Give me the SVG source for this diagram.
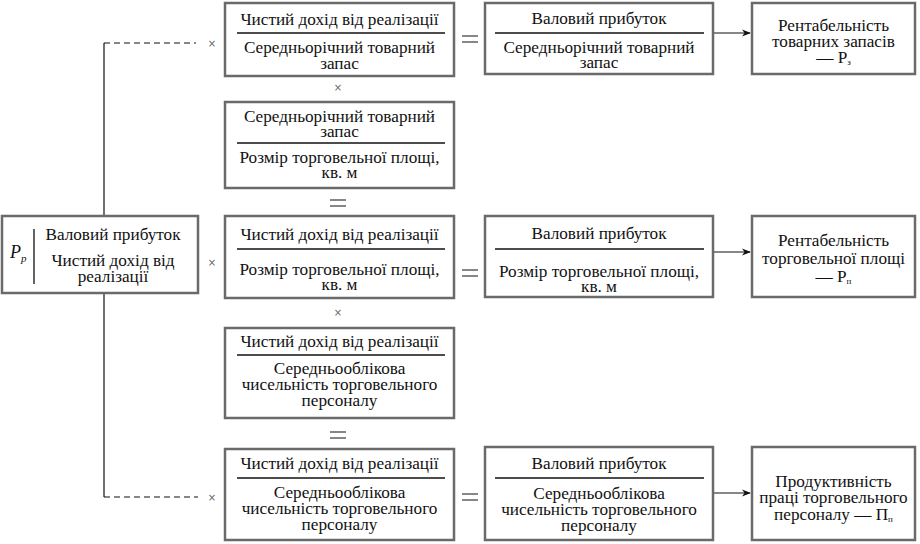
<svg xmlns="http://www.w3.org/2000/svg" width="920" height="544" viewBox="0 0 920 544">
<defs>
<style>
.box{fill:#fff;stroke:#6a6a6a;stroke-width:2.5}
.t{font-family:"Liberation Serif","Times New Roman",serif;font-size:17.2px;fill:#111;text-anchor:middle}
.frac{stroke:#111;stroke-width:1.3}
.conn{stroke:#111;stroke-width:1.2;fill:none}
.dash{stroke:#111;stroke-width:1.2;stroke-dasharray:6 4;fill:none}
.op{stroke:#111;stroke-width:1.2}
.x{font-family:"DejaVu Sans",sans-serif;font-size:10px;fill:#666;text-anchor:middle}
.sub{font-size:9px}
</style>
<marker id="ah" viewBox="0 0 10 10" refX="9" refY="5" markerWidth="9" markerHeight="9" markerUnits="userSpaceOnUse" orient="auto">
<path d="M0,1 L10,5 L0,9 L3,5 Z" fill="#111"/>
</marker>
</defs>
<rect width="920" height="544" fill="#fff"/>

<g id="connectors">
<path class="conn" d="M104,43 V216 M104,293 V497"/>
<path class="dash" d="M104,43 H196 M104,497 H198"/>
<path class="conn" d="M714,33 H750" marker-end="url(#ah)"/>
<path class="conn" d="M714,252 H750" marker-end="url(#ah)"/>
<path class="conn" d="M714,493 H750" marker-end="url(#ah)"/>
</g>

<g id="operators">
<text class="x" x="212" y="47">×</text>
<text class="x" x="212" y="266">×</text>
<text class="x" x="212" y="501">×</text>
<text class="x" x="338" y="91">×</text>
<text class="x" x="338" y="316">×</text>
<path class="op" d="M462,36 H478 M462,42 H478"/>
<path class="op" d="M462,270 H478 M462,276 H478"/>
<path class="op" d="M462,494 H478 M462,500 H478"/>
<path class="op" d="M330,200 H346 M330,206 H346"/>
<path class="op" d="M330,432 H346 M330,438 H346"/>
</g>

<g id="node-pp">
<rect class="box" x="2" y="216" width="196" height="77"/>
<line class="frac" x1="34" y1="229" x2="34" y2="284"/>
<text x="10" y="258" font-family="Liberation Serif, serif" font-size="18" font-style="italic" fill="#111">P<tspan font-size="11" dy="4">p</tspan></text>
<text class="t" x="113" y="240">Валовий прибуток</text>
<text class="t" x="113" y="266">Чистий дохід від</text>
<text class="t" x="113" y="282">реалізації</text>
</g>

<g id="node-r1c2">
<rect class="box" x="225" y="3" width="229" height="73"/>
<line class="frac" x1="237" y1="33" x2="445" y2="33"/>
<text class="t" x="339.5" y="25">Чистий дохід від реалізації</text>
<text class="t" x="339.5" y="53">Середньорічний товарний</text>
<text class="t" x="339.5" y="69">запас</text>
</g>

<g id="node-r1c3">
<rect class="box" x="485" y="3" width="228" height="71"/>
<line class="frac" x1="495" y1="33" x2="704" y2="33"/>
<text class="t" x="599" y="24">Валовий прибуток</text>
<text class="t" x="599" y="53">Середньорічний товарний</text>
<text class="t" x="599" y="68">запас</text>
</g>

<g id="node-r1c4">
<rect class="box" x="752" y="3" width="163" height="71"/>
<text class="t" x="833.5" y="31">Рентабельність</text>
<text class="t" x="833.5" y="47">товарних запасів</text>
<text class="t" x="833.5" y="63">— Р<tspan class="sub" dy="2">з</tspan></text>
</g>

<g id="node-r2c2">
<rect class="box" x="225" y="102" width="229" height="86"/>
<line class="frac" x1="237" y1="143" x2="445" y2="143"/>
<text class="t" x="339.5" y="122">Середньорічний товарний</text>
<text class="t" x="339.5" y="137">запас</text>
<text class="t" x="339.5" y="163">Розмір торговельної площі,</text>
<text class="t" x="339.5" y="178">кв. м</text>
</g>

<g id="node-r3c2">
<rect class="box" x="225" y="216" width="229" height="82"/>
<line class="frac" x1="237" y1="249" x2="445" y2="249"/>
<text class="t" x="339.5" y="240">Чистий дохід від реалізації</text>
<text class="t" x="339.5" y="275">Розмір торговельної площі,</text>
<text class="t" x="339.5" y="290">кв. м</text>
</g>

<g id="node-r3c3">
<rect class="box" x="485" y="216" width="228" height="81"/>
<line class="frac" x1="495" y1="249" x2="704" y2="249"/>
<text class="t" x="599" y="239">Валовий прибуток</text>
<text class="t" x="599" y="277">Розмір торговельної площі,</text>
<text class="t" x="599" y="292">кв. м</text>
</g>

<g id="node-r3c4">
<rect class="box" x="752" y="216" width="163" height="81"/>
<text class="t" x="833.5" y="246">Рентабельність</text>
<text class="t" x="833.5" y="264">торговельної площі</text>
<text class="t" x="833.5" y="282">— Р<tspan class="sub" dy="2">п</tspan></text>
</g>

<g id="node-r4c2">
<rect class="box" x="225" y="328" width="229" height="90"/>
<line class="frac" x1="237" y1="355" x2="445" y2="355"/>
<text class="t" x="339.5" y="347">Чистий дохід від реалізації</text>
<text class="t" x="339.5" y="374">Середньооблікова</text>
<text class="t" x="339.5" y="390">чисельність торговельного</text>
<text class="t" x="339.5" y="406">персоналу</text>
</g>

<g id="node-r5c2">
<rect class="box" x="225" y="449" width="229" height="91"/>
<line class="frac" x1="237" y1="478" x2="445" y2="478"/>
<text class="t" x="339.5" y="469">Чистий дохід від реалізації</text>
<text class="t" x="339.5" y="498">Середньооблікова</text>
<text class="t" x="339.5" y="514">чисельність торговельного</text>
<text class="t" x="339.5" y="530">персоналу</text>
</g>

<g id="node-r5c3">
<rect class="box" x="485" y="447" width="228" height="93"/>
<line class="frac" x1="495" y1="478" x2="704" y2="478"/>
<text class="t" x="599" y="469">Валовий прибуток</text>
<text class="t" x="599" y="499">Середньооблікова</text>
<text class="t" x="599" y="515">чисельність торговельного</text>
<text class="t" x="599" y="531">персоналу</text>
</g>

<g id="node-r5c4">
<rect class="box" x="752" y="447" width="163" height="93"/>
<text class="t" x="833.5" y="487">Продуктивність</text>
<text class="t" x="833.5" y="503">праці торговельного</text>
<text class="t" x="833.5" y="520">персоналу — П<tspan class="sub" dy="2">п</tspan></text>
</g>
</svg>
